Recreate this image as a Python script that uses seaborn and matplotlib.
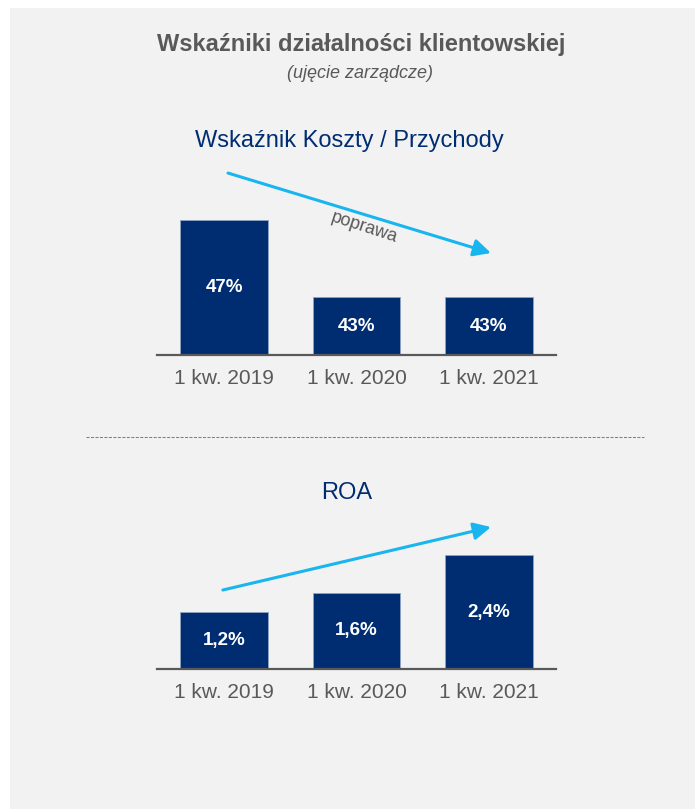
import matplotlib
matplotlib.use("Agg")
import matplotlib.pyplot as plt
import matplotlib.patches as patches
import seaborn as sns

# dane
quarters = ["1 kw. 2019", "1 kw. 2020", "1 kw. 2021"]
cost_income = [47, 43, 43]
cost_income_labels = ["47%", "43%", "43%"]
roa = [1.2, 1.6, 2.4]
roa_labels = ["1,2%", "1,6%", "2,4%"]

navy = "#002D72"
blue = "#19B5EE"
gray = "#595959"
panel = "#F2F2F2"

sns.set_style("white")
plt.rcParams["font.family"] = ["Liberation Sans", "DejaVu Sans"]

W, H = 695, 809
fig = plt.figure(figsize=(W / 100, H / 100), dpi=100)
fig.patch.set_facecolor("white")


def fx(px):
    return px / W


def fy(px):
    return 1 - px / H


# szare tło panelu
fig.patches.append(patches.Rectangle((fx(10), 0), 1, fy(8), transform=fig.transFigure,
                                     facecolor=panel, edgecolor="none", zorder=-5))

fig.text(fx(361), fy(51), "Wskaźniki działalności klientowskiej", ha="center", va="baseline",
         fontsize=17, fontweight="bold", color=gray)
fig.text(fx(359.5), fy(78), "(ujęcie zarządcze)", ha="center", va="baseline",
         fontsize=13, style="italic", color=gray)
fig.text(fx(349), fy(147), "Wskaźnik Koszty / Przychody", ha="center", va="baseline",
         fontsize=17, color=navy)
fig.text(fx(347), fy(499), "ROA", ha="center", va="baseline", fontsize=17, color=navy)

# linia przerywana
fig.add_artist(plt.Line2D([fx(86), fx(644)], [fy(437), fy(437)], transform=fig.transFigure,
                          color="#7F7F7F", lw=0.75, linestyle=(0, (2.9, 1.4))))


def make_axes(bottom_px, ylo, k, values, labels):
    top_px = bottom_px - 195
    ax = fig.add_axes([fx(157), fy(bottom_px), fx(556) - fx(157), (bottom_px - top_px) / H])
    ax.set_facecolor("none")
    ax.set_zorder(1)
    sns.barplot(x=quarters, y=values, ax=ax, color=navy, saturation=1, width=0.664,
                edgecolor="#8FA3C4", linewidth=0.6)
    ax.set_xlim(-0.506, 2.506)
    ax.set_ylim(ylo, ylo + 195 / k)
    ax.set_xlabel("")
    ax.set_ylabel("")
    ax.set_yticks([])
    for s in ["top", "left", "right"]:
        ax.spines[s].set_visible(False)
    ax.spines["bottom"].set_color(gray)
    ax.spines["bottom"].set_linewidth(1.6)
    ax.tick_params(axis="x", length=0, pad=10, labelsize=15, labelcolor=gray)
    for i, (v, lab) in enumerate(zip(values, labels)):
        ax.text(i, (ylo + v) / 2, lab, ha="center", va="center", color="white",
                fontsize=13.5, fontweight="bold")
    return ax


arrow_style = dict(arrowstyle="-|>", color=blue, lw=2.2, mutation_scale=26,
                   shrinkA=0, shrinkB=0)

ax1 = make_axes(355, 40, 19.25, cost_income, cost_income_labels)
ax1.annotate("", xy=(0.837, 0.523), xytext=(0.178, 0.933), xycoords="axes fraction",
             arrowprops=arrow_style)
fig.text(fx(364), fy(228), "poprawa", ha="center", va="center", rotation=-18,
         rotation_mode="anchor", fontsize=13, color=gray)

ax2 = make_axes(669, 0, 47.5, roa, roa_labels)
ax2.annotate("", xy=(0.837, 0.728), xytext=(0.165, 0.405), xycoords="axes fraction",
             arrowprops=arrow_style)

fig.savefig("out.png", dpi=100)
